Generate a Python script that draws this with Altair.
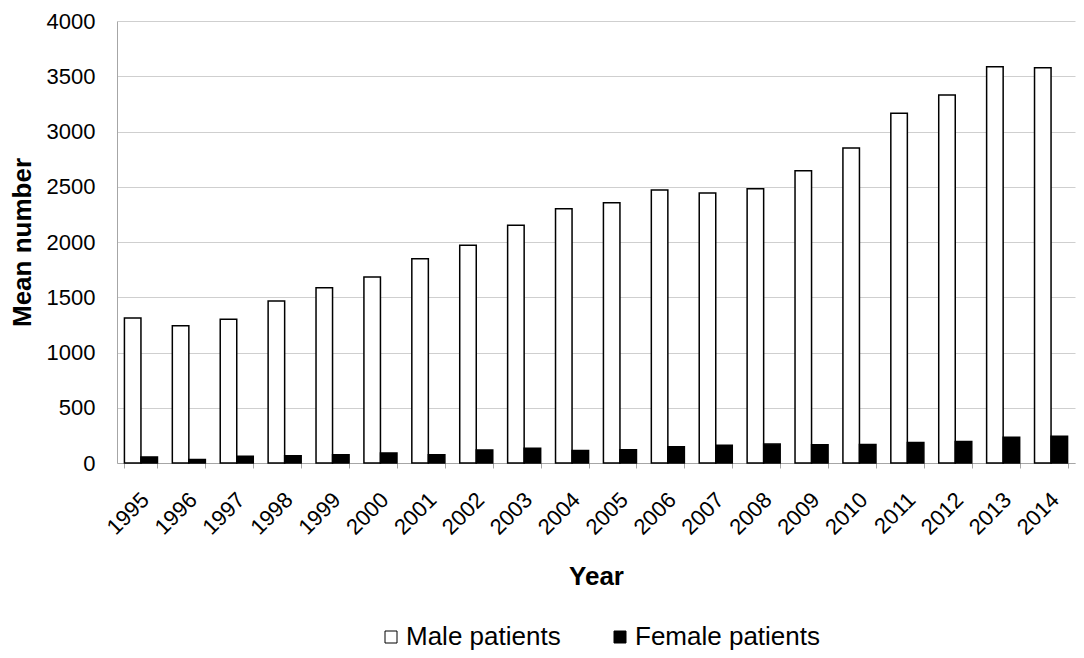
import altair as alt
import pandas as pd

years = ["1995", "1996", "1997", "1998", "1999", "2000", "2001", "2002", "2003", "2004",
         "2005", "2006", "2007", "2008", "2009", "2010", "2011", "2012", "2013", "2014"]
male = [1312, 1241, 1301, 1466, 1585, 1683, 1849, 1971, 2152, 2302,
        2355, 2470, 2443, 2482, 2645, 2850, 3166, 3330, 3586, 3577]
female = [55, 32, 62, 65, 74, 91, 74, 118, 133, 112,
          121, 147, 160, 171, 165, 168, 186, 195, 233, 242]
series = ["Male patients", "Female patients"]
y_ticks = [0, 500, 1000, 1500, 2000, 2500, 3000, 3500, 4000]

rows = []
for i, yr in enumerate(years):
    rows.append({"Year": yr, "Series": series[0], "Value": male[i]})
    rows.append({"Year": yr, "Series": series[1], "Value": female[i]})
df = pd.DataFrame(rows)

FONT = "Liberation Sans"

chart = alt.Chart(df).mark_bar(stroke="black", strokeWidth=1.5).encode(
    x=alt.X("Year:N", sort=years,
            scale=alt.Scale(paddingInner=0.31, paddingOuter=0.155),
            axis=alt.Axis(title="Year", labelAngle=-45, labelAlign="right",
                          labelBaseline="middle", labelFontSize=22, labelFont=FONT,
                          labelColor="black", labelPadding=28, labelOffset=4,
                          tickBand="extent",
                          tickSize=5, tickColor="#a6a6a6", domainColor="#a6a6a6",
                          titleFontSize=26, titleFont=FONT, titleFontWeight="bold",
                          titleColor="black", titleBaseline="alphabetic", titleY=121)),
    xOffset=alt.XOffset("Series:N", sort=series,
                        scale=alt.Scale(paddingInner=0, paddingOuter=0)),
    y=alt.Y("Value:Q", scale=alt.Scale(domain=[0, 4000], nice=False),
            axis=alt.Axis(title="Mean number", values=y_ticks, ticks=False, format="d",
                          labelFontSize=22, labelFont=FONT, labelColor="black",
                          labelPadding=22, domainColor="#a6a6a6", gridColor="#cfcfcf",
                          titleFontSize=26, titleFont=FONT, titleFontWeight="bold",
                          titleColor="black", titleAngle=-90, titleBaseline="middle",
                          titleAlign="center", titleX=-95, titleY=221)),
    color=alt.Color("Series:N", sort=series,
                    scale=alt.Scale(domain=series, range=["white", "black"]),
                    legend=alt.Legend(title=None, orient="none", legendX=261, legendY=603,
                                      direction="horizontal", symbolType="square",
                                      symbolSize=144, symbolStrokeColor="black",
                                      symbolStrokeWidth=1, labelFontSize=26,
                                      labelFont=FONT, labelColor="black", labelLimit=400,
                                      columnPadding=46, labelOffset=2)),
).properties(
    width=958, height=442,
    autosize=alt.AutoSizeParams(type="none"),
    padding={"left": 109, "top": 13, "right": 1, "bottom": 187},
).configure_view(stroke=None)

chart.save("out.html", embed_options={"renderer": "svg", "actions": False})
